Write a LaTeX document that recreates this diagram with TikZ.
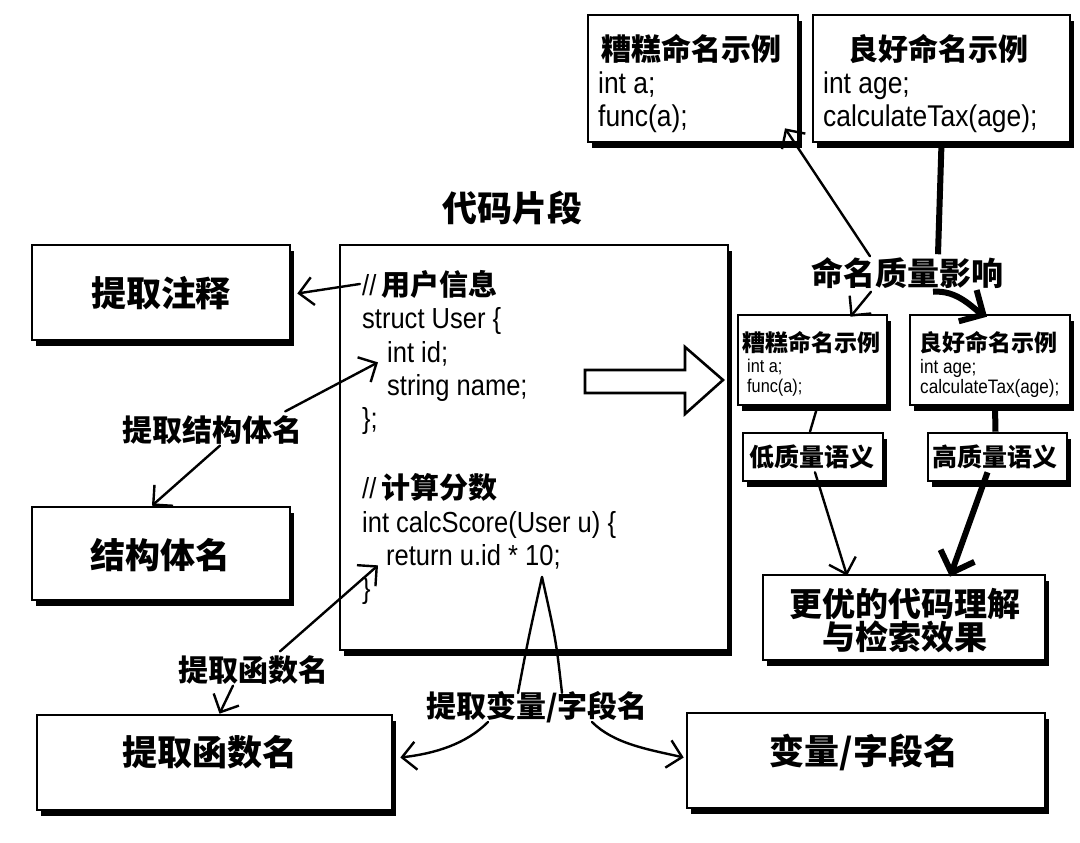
\documentclass[tikz,border=0pt]{standalone}
\usepackage{fontspec}
\setmainfont{Liberation Sans}[FakeStretch=0.88]
\newfontfamily\cjk{Noto Sans CJK SC}
\usetikzlibrary{arrows.meta,shadows}
\begin{document}
\begin{tikzpicture}[x=1pt,y=-1pt,
  ln/.style={line width=2.4pt, line cap=round},
  arr/.style={ln, -{Straight Barb[length=14pt,width=28pt]}},
  thk/.style={line width=6pt},
  tarr/.style={thk, -{Straight Barb[length=18pt,width=36pt]}},
  box/.style={draw, line width=2.6pt, fill=white, inner sep=0pt,
    drop shadow={shadow xshift=4pt,shadow yshift=-6pt,fill=black,opacity=1}},
  big/.style={font=\fontsize{35}{38}\selectfont\cjk\bfseries, inner sep=1pt},
  mid/.style={font=\fontsize{30}{34}\selectfont\cjk\bfseries, inner sep=1pt},
  sml/.style={font=\fontsize{25}{28}\selectfont\cjk\bfseries, inner sep=1pt},
  code/.style={font=\fontsize{29}{33}\selectfont, inner sep=0pt, anchor=base west},
  tcode/.style={font=\fontsize{30}{33}\selectfont, inner sep=0pt, anchor=base west},
  scode/.style={font=\fontsize{18.5}{21}\selectfont, inner sep=0pt, anchor=base west},
]
\useasboundingbox[fill=white] (0,0) rectangle (1080,843);

% ---------- boxes ----------
\node[box, minimum width=210pt, minimum height=127pt] (topbad) at (693,78.5) {};
\node[box, minimum width=257pt, minimum height=127pt] (topgood) at (941.5,78.5) {};
\node[box, minimum width=388pt, minimum height=405pt] (codebox) at (534,447.5) {};
\node[box, minimum width=258pt, minimum height=95pt] (note) at (161,292.5) {};
\node[box, minimum width=258pt, minimum height=93pt] (structbox) at (161,553.5) {};
\node[box, minimum width=355pt, minimum height=95pt] (funcbox) at (214.5,762.5) {};
\node[box, minimum width=358pt, minimum height=95pt] (varbox) at (866,760.5) {};
\node[box, minimum width=149pt, minimum height=90pt] (smallbad) at (812.5,360) {};
\node[box, minimum width=160pt, minimum height=90pt] (smallgood) at (990,360) {};
\node[box, minimum width=140pt, minimum height=48pt] (low) at (813,457) {};
\node[box, minimum width=139pt, minimum height=48pt] (high) at (997.5,457) {};
\node[box, minimum width=282pt, minimum height=85pt] (better) at (904,617.5) {};

% ---------- texts in boxes ----------
\node[font=\fontsize{30}{34}\selectfont\cjk\bfseries, inner sep=0pt] (tbt) at (691,49) {糟糕命名示例};
\node[tcode] (tb1) at (598,93) {int a;};
\node[tcode] (tb2) at (598,126) {func(a);};
\node[font=\fontsize{30}{34}\selectfont\cjk\bfseries, inner sep=0pt] (tgt) at (938,49) {良好命名示例};
\node[tcode] (tg1) at (823,93) {int age;};
\node[tcode] (tg2) at (823,126) {calculateTax(age);};

\node[big] (title) at (512,208) {代码片段};
\node[code] (l1) at (362,295) {//\,{\cjk\bfseries 用户信息}};
\node[code] (l2) at (362,328) {struct User \{};
\node[code] (l3) at (387,362) {int id;};
\node[code] (l4) at (387,395) {string name;};
\node[code] (l5) at (362,428) {\};};
\node[code] (l6) at (362,498) {//\,{\cjk\bfseries 计算分数}};
\node[code] (l7) at (362,532) {int calcScore(User u) \{};
\node[code] (l8) at (386,565) {return u.id * 10;};
\node[code] (l9) at (362,598) {\}};

\node[big] (tnote) at (161,293) {提取注释};
\node[big] (tstruct) at (160,555) {结构体名};
\node[big] (tfunc) at (210,752) {提取函数名};
\node[big] (tvar) at (864,752) {变量/字段名};

\node[font=\fontsize{23}{26}\selectfont\cjk\bfseries, inner sep=0pt] (sbt) at (811,343) {糟糕命名示例};
\node[scode] (sb1) at (747,372) {int a;};
\node[scode] (sb2) at (747,392) {func(a);};
\node[font=\fontsize{23}{26}\selectfont\cjk\bfseries, inner sep=0pt] (sgt) at (988,343) {良好命名示例};
\node[scode, font=\fontsize{19.5}{21}\selectfont] (sg1) at (920,373) {int age;};
\node[scode, font=\fontsize{19.5}{21}\selectfont] (sg2) at (920,393) {calculateTax(age);};

\node[sml] (tlow) at (812,457) {低质量语义};
\node[sml] (thigh) at (995,457) {高质量语义};
\node[font=\fontsize{33}{31}\selectfont\cjk\bfseries, align=center, inner sep=0pt] (tbetter) at (905,621) {更优的代码理解\\与检索效果};

% ---------- free labels ----------
\node[mid, font=\fontsize{32}{36}\selectfont\cjk\bfseries] (lblQ) at (907,273) {命名质量影响};
\node[mid] (lblS) at (212,430) {提取结构体名};
\node[mid] (lblF) at (253,670) {提取函数名};
\node[mid] (lblV) at (537,707) {提取变量/字段名};

% ---------- block arrow ----------
\draw[line width=2.6pt, fill=white, line join=miter]
  (585,370) -- (685,370) -- (685,347) -- (723,380) -- (685,414) -- (685,393) -- (585,393) -- cycle;

% ---------- connectors ----------
\draw[arr] ([xshift=-2pt]l1.west) -- ([xshift=6pt,yshift=-1pt]note.east);
\draw[arr] ([xshift=-18pt,yshift=3pt]lblS.north east) -- ([xshift=-9pt,yshift=-9pt]l3.west);
\draw[arr] ([xshift=8pt]lblS.south) -- ([xshift=-9pt]structbox.north);
\draw[arr] ([xshift=27pt,yshift=3pt]lblF.north) -- ([xshift=-8pt,yshift=-9pt]l8.west);
\draw[arr] ([xshift=-20pt]lblF.south) -- ([xshift=5pt]funcbox.north);

\coordinate (vApex) at (542,577);
\draw[ln] ([xshift=-19pt,yshift=-3pt]lblV.north) .. controls (528,640) .. (vApex);
\draw[ln] ([xshift=25pt,yshift=-3pt]lblV.north) .. controls (556,640) .. (vApex);
\draw[arr] ([xshift=-49pt,yshift=2pt]lblV.south) .. controls +(-22,22) and +(35,-4) .. ([xshift=7pt,yshift=5pt]funcbox.east);
\draw[arr] ([xshift=55pt,yshift=2pt]lblV.south) .. controls +(22,22) and +(-35,-8) .. ([xshift=-2pt,yshift=3pt]varbox.west);

\draw[arr] ([xshift=-37pt]lblQ.north) -- ([xshift=92pt,yshift=15pt]topbad.south);
\draw[thk] (topgood.south) -- ([xshift=31pt,yshift=2pt]lblQ.north);
\draw[arr] ([xshift=-36pt,yshift=-2pt]lblQ.south) -- ([xshift=38pt,yshift=-3pt]smallbad.north);
\draw[tarr] ([xshift=26pt,yshift=-2pt]lblQ.south) .. controls +(25,-2) and +(-14,-8) .. ([xshift=-3pt,yshift=-3pt]smallgood.north);
\draw[ln] ([xshift=5pt]smallbad.south) -- ([xshift=-3pt]low.north);
\draw[thk] ([xshift=5pt]smallgood.south) -- ([xshift=-2pt]high.north);
\draw[arr] ([xshift=2pt,yshift=10pt]low.south) -- ([xshift=-57pt,yshift=-2pt]better.north);
\draw[tarr] ([xshift=-10pt,yshift=10pt]high.south) -- ([xshift=46pt,yshift=-3pt]better.north);
\end{tikzpicture}
\end{document}
